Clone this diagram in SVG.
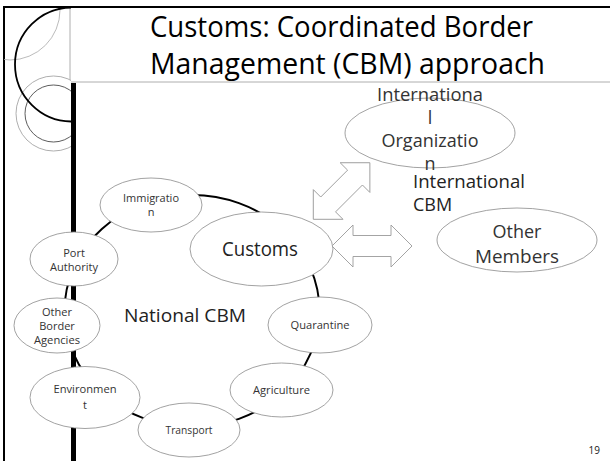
<svg xmlns="http://www.w3.org/2000/svg" width="610" height="461" viewBox="0 0 610 461">
<style>
text{font-family:"Open Sans","Noto Sans","DejaVu Sans",sans-serif;fill:#222;}
.title{font-size:29px;fill:#000;}
.node ellipse{fill:#fff;stroke:#8a8a8a;stroke-width:0.8;}
.sm{font-size:11px;text-anchor:middle;fill:#333;}
.md{font-size:18px;text-anchor:middle;fill:#333;}
.arrow{fill:#fff;stroke:#9a9a9a;stroke-width:0.9;}
</style>
<defs>
<clipPath id="side"><rect x="4" y="8" width="67" height="160"/></clipPath>
<path id="dbl" d="M0,0 L21,-21 L21,-10.5 L59,-10.5 L59,-21 L80,0 L59,21 L59,10.5 L21,10.5 L21,21 Z"/>
</defs>
<rect width="610" height="461" fill="#fff"/>
<g id="frame">
<line x1="3" y1="7" x2="610" y2="7" stroke="#000" stroke-width="2.2"/>
<line x1="4" y1="6" x2="4" y2="461" stroke="#000" stroke-width="2"/>
<line x1="70" y1="8" x2="70" y2="82" stroke="#999" stroke-width="0.8"/>
<line x1="70" y1="82" x2="610" y2="82" stroke="#999" stroke-width="0.8"/>
<g clip-path="url(#side)">
<circle cx="10" cy="10" r="50" fill="none" stroke="#aaa" stroke-width="0.8"/>
<circle cx="53.5" cy="113.5" r="33" fill="none" stroke="#fff" stroke-width="9"/>
<circle cx="53.5" cy="113.5" r="37.5" fill="none" stroke="#999" stroke-width="0.8"/>
<circle cx="53.5" cy="113.5" r="28.5" fill="none" stroke="#333" stroke-width="0.8"/>
<path d="M72,7.5 A57,57 0 0 0 72,121.5" fill="none" stroke="#000" stroke-width="1.8"/>
</g>
<rect x="71" y="83" width="5" height="378" fill="#000"/>
</g>
<text class="title" x="150" y="37" textLength="383" lengthAdjust="spacingAndGlyphs">Customs:  Coordinated Border</text>
<text class="title" x="150" y="74" textLength="395" lengthAdjust="spacingAndGlyphs">Management (CBM) approach</text>
<g id="connectors">
<ellipse cx="192" cy="311" rx="127.5" ry="116" fill="none" stroke="#000" stroke-width="2"/>
<use href="#dbl" class="arrow" transform="translate(332,246)"/>
<use href="#dbl" class="arrow" transform="translate(313.3,219.3) rotate(-45)"/>
</g>
<g id="intl-org" class="node">
<ellipse cx="430" cy="133" rx="85" ry="35"/>
<text class="md" x="430" y="101" textLength="106" lengthAdjust="spacingAndGlyphs">Internationa</text>
<text class="md" x="430" y="124">l</text>
<text class="md" x="430" y="147">Organizatio</text>
<text class="md" x="430" y="170">n</text>
</g>
<g id="intl-cbm">
<text x="413" y="188" font-size="18" fill="#222" textLength="112" lengthAdjust="spacingAndGlyphs">International</text>
<text x="413" y="211" font-size="18" fill="#222">CBM</text>
</g>
<g id="other-members" class="node">
<ellipse cx="517" cy="240" rx="80" ry="32"/>
<text class="md" x="517" y="238">Other</text>
<text class="md" x="517" y="263" textLength="84" lengthAdjust="spacingAndGlyphs">Members</text>
</g>
<g id="customs" class="node">
<ellipse cx="261.5" cy="249" rx="71.5" ry="37"/>
<text x="260" y="256" font-size="20" text-anchor="middle" fill="#333" textLength="76" lengthAdjust="spacingAndGlyphs">Customs</text>
</g>
<g id="quarantine" class="node">
<ellipse cx="320" cy="325" rx="52" ry="28"/>
<text class="sm" x="320" y="329" textLength="59" lengthAdjust="spacingAndGlyphs">Quarantine</text>
</g>
<g id="agriculture" class="node">
<ellipse cx="281.5" cy="390" rx="51.5" ry="27"/>
<text class="sm" x="281.5" y="394" textLength="57" lengthAdjust="spacingAndGlyphs">Agriculture</text>
</g>
<g id="transport" class="node">
<ellipse cx="189" cy="430" rx="51" ry="27"/>
<text class="sm" x="189" y="434" textLength="47" lengthAdjust="spacingAndGlyphs">Transport</text>
</g>
<g id="environment" class="node">
<ellipse cx="85" cy="397.5" rx="55" ry="31"/>
<text class="sm" x="85" y="393" textLength="63" lengthAdjust="spacingAndGlyphs">Environmen</text>
<text class="sm" x="85" y="409">t</text>
</g>
<g id="other-border" class="node">
<ellipse cx="57" cy="325.5" rx="43" ry="27.5"/>
<text class="sm" x="57" y="316">Other</text>
<text class="sm" x="57" y="330">Border</text>
<text class="sm" x="57" y="344" textLength="46" lengthAdjust="spacingAndGlyphs">Agencies</text>
</g>
<g id="port" class="node">
<ellipse cx="74" cy="259" rx="44" ry="27"/>
<text class="sm" x="74" y="257">Port</text>
<text class="sm" x="74" y="271" textLength="48" lengthAdjust="spacingAndGlyphs">Authority</text>
</g>
<g id="immigration" class="node">
<ellipse cx="151" cy="205" rx="51" ry="27"/>
<text class="sm" x="151" y="202" textLength="56" lengthAdjust="spacingAndGlyphs">Immigratio</text>
<text class="sm" x="151" y="216">n</text>
</g>
<text x="124" y="322" font-size="18" fill="#222" textLength="122" lengthAdjust="spacingAndGlyphs">National CBM</text>
<text x="600" y="454" font-size="10" fill="#555" text-anchor="end">19</text>
</svg>
